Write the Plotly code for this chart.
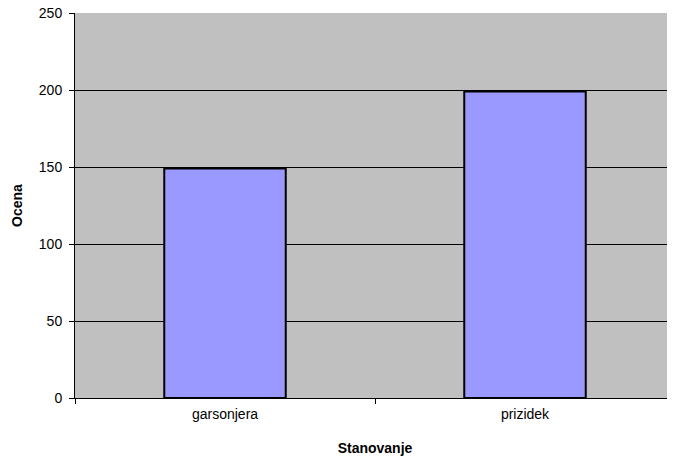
import plotly.graph_objects as go

categories = ["garsonjera", "prizidek"]
values = [149, 199]
y_ticks = [0, 50, 100, 150, 200, 250]

fig = go.Figure()
fig.add_trace(go.Bar(
    x=categories, y=values,
    marker=dict(color="#9999FF", line=dict(color="#000000", width=2)),
    width=0.405,
))

# the page adds an 8px body margin, so the figure is 8px smaller and margins shifted
font = dict(family="Liberation Sans, Arial, sans-serif", size=14, color="#000000")
fig.update_layout(
    autosize=False,
    width=667, height=452,
    margin=dict(l=67, r=0, t=5, b=62, autoexpand=False),
    paper_bgcolor="#FFFFFF",
    plot_bgcolor="#C0C0C0",
    font=font,
    showlegend=False,
)
fig.update_xaxes(
    showline=True, linecolor="#000000", linewidth=1,
    ticks="outside", tickson="boundaries", ticklen=5, tickcolor="#000000",
    showgrid=False,
    automargin=False,
    tickfont=dict(size=14),
    ticklabelstandoff=3,
    title=dict(text="<b>Stanovanje</b>", font=dict(size=14), standoff=22),
)
fig.update_yaxes(
    range=[0, 250], tickvals=y_ticks,
    showline=True, linecolor="#000000", linewidth=1,
    ticks="outside", ticklen=5, tickcolor="#000000",
    showgrid=True, gridcolor="#000000", gridwidth=1,
    zeroline=False,
    automargin=False,
    tickfont=dict(size=14),
    ticklabelstandoff=4,
    ticklabeloverflow="allow",
    title=dict(text="<b>Ocena</b>", font=dict(size=14), standoff=12),
)
fig.write_html("out.html", config={"responsive": False},
               default_width="667px", default_height="452px")
